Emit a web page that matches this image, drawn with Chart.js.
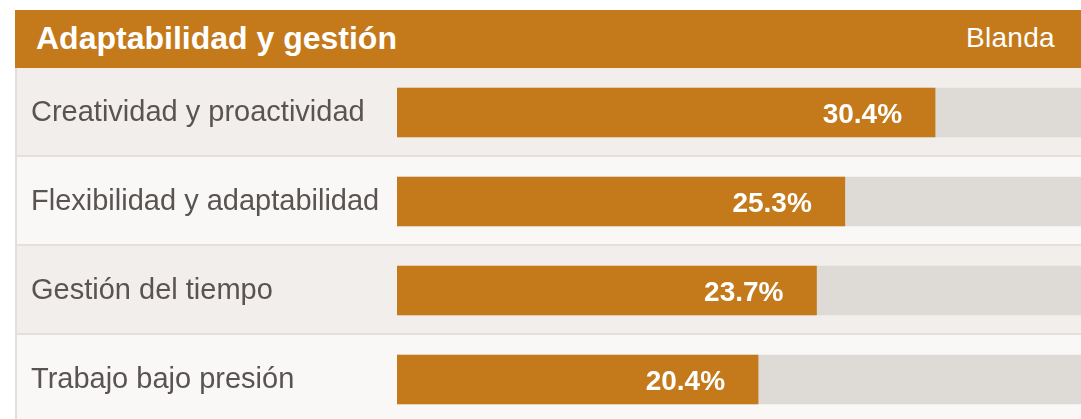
<!DOCTYPE html>
<html lang="es">
<head>
<meta charset="utf-8">
<script src="https://cdn.jsdelivr.net/npm/chart.js@4"></script>
<style>
  html, body { margin: 0; padding: 0; background: #ffffff; }
  body { width: 1081px; height: 419px; overflow: hidden; position: relative; font-family: "Liberation Sans", Arial, sans-serif; }
  #cabecera {
    position: absolute; left: 15px; top: 10px; width: 1100px; height: 58px;
    background: #c47a1b; color: #ffffff;
  }
  #titulo { position: absolute; left: 21px; top: 10px; font-size: 32px; font-weight: bold; line-height: 37px; }
  #tipo { position: absolute; left: 951px; top: 11px; font-size: 28px; line-height: 34px; letter-spacing: 0.3px; }
  #contenedor { position: absolute; left: 0; top: 68px; width: 1105px; height: 356px; }
</style>
</head>
<body>
<div id="cabecera">
  <div id="titulo">Adaptabilidad y gestión</div>
  <div id="tipo">Blanda</div>
</div>
<div id="contenedor"><canvas id="grafico"></canvas></div>
<script>
// Datos
const competencias = ['Creatividad y proactividad', 'Flexibilidad y adaptabilidad', 'Gestión del tiempo', 'Trabajo bajo presión'];
const porcentajes = [30.4, 25.3, 23.7, 20.4];
const maximo = 40;

const naranja = '#c47a1b';
const fondoFila = ['#f2eeeb', '#f9f8f7'];

// Fondos alternos de cada fila
const filasPlugin = {
    id: 'filas',
    beforeDraw(chart) {
        const ctx = chart.ctx;
        const y = chart.scales.y;
        const area = chart.chartArea;
        const alto = (area.bottom - area.top) / competencias.length;
        ctx.save();
        competencias.forEach(function(c, i) {
            const top = y.getPixelForValue(i) - alto / 2;
            ctx.fillStyle = fondoFila[i % 2];
            ctx.fillRect(15, top, chart.width, alto);
            if (i < competencias.length - 1) {
                ctx.fillStyle = '#e4e0dc';
                ctx.fillRect(15, top + alto - 2, chart.width, 2);
            }
        });
        ctx.fillStyle = '#e2dedb';
        ctx.fillRect(15, 0, 2, chart.height);
        ctx.restore();
    }
};

// Porcentaje dentro de la barra
const etiquetasPlugin = {
    id: 'etiquetas',
    afterDatasetsDraw(chart) {
        const ctx = chart.ctx;
        const meta = chart.getDatasetMeta(0);
        ctx.save();
        ctx.fillStyle = '#ffffff';
        ctx.font = 'bold 28px "Liberation Sans", Arial, sans-serif';
        ctx.textAlign = 'right';
        ctx.textBaseline = 'middle';
        meta.data.forEach(function(bar, i) {
            ctx.fillText(porcentajes[i].toFixed(1) + '%', bar.x - 33, bar.y + 3);
        });
        ctx.restore();
    }
};

new Chart(document.getElementById('grafico'), {
    type: 'bar',
    data: {
        labels: competencias,
        datasets: [{
            data: porcentajes,
            backgroundColor: naranja,
            order: 1
        }, {
            data: competencias.map(function() { return maximo; }),
            backgroundColor: '#dedad5',
            order: 2
        }]
    },
    options: {
        indexAxis: 'y',
        responsive: true,
        maintainAspectRatio: false,
        animation: false,
        layout: { padding: { left: 31, right: 0, top: 0, bottom: 0 } },
        datasets: { bar: { grouped: false, barThickness: 49 } },
        plugins: { legend: { display: false }, tooltip: { enabled: false } },
        scales: {
            x: { display: false, min: 0, max: maximo },
            y: {
                grid: { display: false },
                border: { display: false },
                ticks: {
                    crossAlign: 'far',
                    padding: 0,
                    color: '#595452',
                    font: { family: '"Liberation Sans", Arial, sans-serif', size: 29 }
                },
                afterFit: function(scale) {
                    scale.width = 366;
                    scale.paddingTop = 0;
                    scale.paddingBottom = 0;
                }
            }
        }
    },
    plugins: [filasPlugin, etiquetasPlugin]
});
</script>
</body>
</html>
